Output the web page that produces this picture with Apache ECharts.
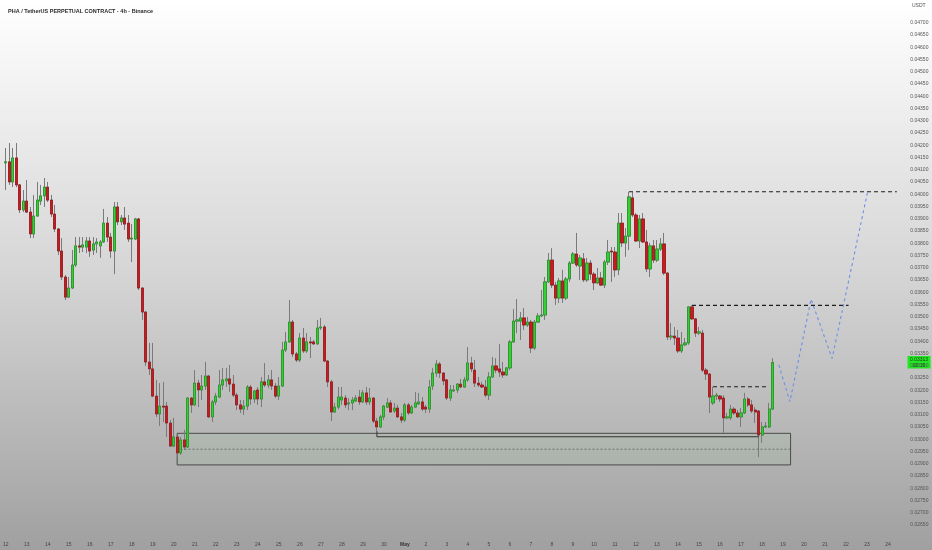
<!DOCTYPE html>
<html><head><meta charset="utf-8">
<script src="https://cdn.jsdelivr.net/npm/echarts@6/dist/echarts.min.js"></script>
<style>html,body{margin:0;padding:0;background:#fff}#c{width:932px;height:550px}</style>
</head><body><div id="c"></div><script>
// 4h candles, PHA/USDT perpetual, Apr 12 00:00 -> May 18 12:00
const opens=[0.04128,0.04132,0.04050,0.04148,0.04038,0.03936,0.03972,0.03927,0.03838,0.03911,0.03972,0.03993,0.04029,0.03976,0.03919,0.03858,0.03768,0.03662,0.03580,0.03617,
0.03711,0.03789,0.03784,0.03784,0.03809,0.03772,0.03797,0.03789,0.03805,0.03882,0.03825,0.03768,0.03948,0.03887,0.03903,0.03882,0.03817,0.03817,0.03899,0.03617,
0.03519,0.03315,0.03287,0.03176,0.03103,0.03135,0.03135,0.03066,0.02972,0.03009,0.02944,0.02997,0.02968,0.03168,0.03140,0.03229,0.03201,0.03217,0.03258,0.03091,
0.03152,0.03172,0.03221,0.03238,0.03246,0.03225,0.03180,0.03140,0.03123,0.03135,0.03213,0.03164,0.03201,0.03164,0.03234,0.03221,0.03242,0.03217,0.03176,0.03217,
0.03364,0.03397,0.03478,0.03348,0.03323,0.03413,0.03360,0.03397,0.03397,0.03389,0.03454,0.03458,0.03319,0.03234,0.03111,0.03131,0.03160,0.03168,0.03144,0.03148,
0.03156,0.03172,0.03152,0.03189,0.03152,0.03168,0.03074,0.03050,0.03091,0.03131,0.03148,0.03115,0.03127,0.03091,0.03078,0.03140,0.03107,0.03131,0.03144,0.03152,
0.03131,0.03123,0.03217,0.03270,0.03307,0.03270,0.03242,0.03168,0.03197,0.03201,0.03225,0.03213,0.03242,0.03311,0.03282,0.03229,0.03221,0.03213,0.03180,0.03254,
0.03299,0.03287,0.03274,0.03262,0.03291,0.03397,0.03482,0.03482,0.03495,0.03466,0.03478,0.03372,0.03478,0.03503,0.03507,0.03642,0.03731,0.03629,0.03576,0.03646,
0.03576,0.03654,0.03719,0.03756,0.03707,0.03736,0.03650,0.03719,0.03674,0.03638,0.03658,0.03629,0.03723,0.03768,0.03764,0.03691,0.03882,0.03801,0.03829,0.03985,
0.03915,0.03809,0.03899,0.03805,0.03695,0.03789,0.03731,0.03776,0.03797,0.03678,0.03417,0.03421,0.03413,0.03360,0.03385,0.03393,0.03540,0.03491,0.03433,0.03433,
0.03282,0.03266,0.03148,0.03176,0.03176,0.03168,0.03087,0.03087,0.03123,0.03107,0.03091,0.03107,0.03164,0.03140,0.03119,0.03115,0.03017,0.03050,0.03050,0.03123];
const closes=[0.04132,0.04050,0.04148,0.04038,0.03936,0.03972,0.03927,0.03838,0.03911,0.03976,0.03993,0.04029,0.03976,0.03919,0.03858,0.03768,0.03662,0.03580,0.03617,0.03711,
0.03789,0.03784,0.03793,0.03809,0.03768,0.03797,0.03805,0.03805,0.03882,0.03825,0.03768,0.03948,0.03887,0.03903,0.03878,0.03817,0.03821,0.03899,0.03617,0.03519,
0.03315,0.03287,0.03176,0.03103,0.03135,0.03131,0.03066,0.02972,0.03009,0.02944,0.02997,0.02968,0.03168,0.03140,0.03229,0.03201,0.03217,0.03258,0.03091,0.03152,
0.03176,0.03221,0.03242,0.03246,0.03225,0.03180,0.03140,0.03123,0.03135,0.03213,0.03164,0.03197,0.03164,0.03234,0.03221,0.03242,0.03217,0.03176,0.03217,0.03364,
0.03397,0.03478,0.03348,0.03323,0.03413,0.03360,0.03397,0.03393,0.03389,0.03454,0.03458,0.03319,0.03234,0.03111,0.03131,0.03172,0.03172,0.03140,0.03148,0.03160,
0.03168,0.03152,0.03189,0.03152,0.03168,0.03074,0.03050,0.03091,0.03135,0.03148,0.03111,0.03127,0.03091,0.03078,0.03140,0.03107,0.03131,0.03148,0.03152,0.03123,
0.03123,0.03213,0.03270,0.03307,0.03270,0.03238,0.03168,0.03201,0.03201,0.03225,0.03213,0.03242,0.03311,0.03287,0.03229,0.03221,0.03213,0.03180,0.03254,0.03299,
0.03282,0.03274,0.03262,0.03291,0.03397,0.03482,0.03487,0.03495,0.03466,0.03478,0.03372,0.03478,0.03503,0.03507,0.03642,0.03731,0.03629,0.03576,0.03646,0.03576,
0.03654,0.03719,0.03756,0.03711,0.03740,0.03650,0.03719,0.03674,0.03638,0.03658,0.03629,0.03723,0.03764,0.03764,0.03691,0.03882,0.03801,0.03829,0.03989,0.03915,
0.03809,0.03899,0.03805,0.03695,0.03789,0.03731,0.03776,0.03797,0.03678,0.03417,0.03421,0.03413,0.03360,0.03385,0.03393,0.03540,0.03491,0.03433,0.03438,0.03282,
0.03266,0.03172,0.03176,0.03180,0.03164,0.03087,0.03091,0.03123,0.03107,0.03091,0.03107,0.03164,0.03140,0.03115,0.03111,0.03017,0.03050,0.03054,0.03123,0.03313];
const lows=[0.04017,0.04038,0.04029,0.04029,0.03923,0.03927,0.03923,0.03821,0.03821,0.03907,0.03956,0.03948,0.03968,0.03907,0.03846,0.03752,0.03650,0.03568,0.03576,0.03613,
0.03703,0.03760,0.03764,0.03760,0.03744,0.03752,0.03760,0.03740,0.03801,0.03805,0.03740,0.03674,0.03874,0.03874,0.03854,0.03805,0.03723,0.03813,0.03609,0.03487,
0.03299,0.03262,0.03172,0.03091,0.03054,0.03070,0.03009,0.02968,0.02968,0.02927,0.02936,0.02956,0.02964,0.03107,0.03135,0.03131,0.03160,0.03201,0.03087,0.03070,
0.03140,0.03168,0.03201,0.03213,0.03193,0.03172,0.03119,0.03107,0.03099,0.03119,0.03140,0.03148,0.03140,0.03131,0.03213,0.03209,0.03201,0.03168,0.03160,0.03213,
0.03356,0.03393,0.03336,0.03315,0.03315,0.03352,0.03352,0.03331,0.03385,0.03385,0.03446,0.03315,0.03213,0.03074,0.03107,0.03123,0.03140,0.03127,0.03119,0.03119,
0.03152,0.03140,0.03148,0.03140,0.03140,0.03066,0.03033,0.03046,0.03078,0.03127,0.03107,0.03107,0.03087,0.03066,0.03070,0.03099,0.03103,0.03127,0.03140,0.03115,
0.03107,0.03107,0.03201,0.03254,0.03250,0.03221,0.03160,0.03156,0.03193,0.03189,0.03209,0.03209,0.03234,0.03274,0.03213,0.03213,0.03209,0.03172,0.03160,0.03250,
0.03270,0.03254,0.03250,0.03258,0.03282,0.03393,0.03433,0.03405,0.03446,0.03458,0.03352,0.03364,0.03474,0.03499,0.03487,0.03638,0.03617,0.03548,0.03556,0.03556,
0.03568,0.03642,0.03715,0.03703,0.03650,0.03642,0.03642,0.03650,0.03609,0.03633,0.03625,0.03617,0.03711,0.03642,0.03662,0.03670,0.03784,0.03744,0.03772,0.03907,
0.03805,0.03780,0.03801,0.03682,0.03662,0.03719,0.03723,0.03768,0.03670,0.03405,0.03405,0.03385,0.03352,0.03352,0.03380,0.03385,0.03487,0.03417,0.03425,0.03274,
0.03242,0.03107,0.03140,0.03160,0.03152,0.03025,0.03082,0.03078,0.03099,0.03087,0.03050,0.03103,0.03131,0.03107,0.03066,0.02927,0.02985,0.03046,0.03046,0.03119];
const highs=[0.04189,0.04209,0.04189,0.04209,0.04042,0.04017,0.04058,0.03948,0.03997,0.04050,0.04038,0.04066,0.04050,0.03997,0.03956,0.03862,0.03821,0.03670,0.03662,0.03772,
0.03825,0.03825,0.03825,0.03825,0.03825,0.03825,0.03821,0.03813,0.03940,0.03907,0.03842,0.03968,0.03968,0.03915,0.03948,0.03915,0.03878,0.03903,0.03903,0.03621,
0.03523,0.03393,0.03393,0.03242,0.03229,0.03234,0.03152,0.03078,0.03087,0.03013,0.03009,0.03038,0.03172,0.03172,0.03282,0.03242,0.03262,0.03315,0.03262,0.03160,
0.03189,0.03282,0.03291,0.03291,0.03303,0.03262,0.03189,0.03160,0.03160,0.03221,0.03221,0.03201,0.03213,0.03254,0.03311,0.03262,0.03282,0.03229,0.03254,0.03397,
0.03438,0.03568,0.03487,0.03356,0.03433,0.03454,0.03433,0.03417,0.03405,0.03487,0.03495,0.03466,0.03323,0.03242,0.03148,0.03213,0.03213,0.03180,0.03168,0.03172,
0.03180,0.03201,0.03201,0.03213,0.03209,0.03172,0.03087,0.03099,0.03140,0.03168,0.03160,0.03148,0.03140,0.03107,0.03148,0.03148,0.03140,0.03193,0.03189,0.03172,
0.03140,0.03242,0.03291,0.03323,0.03315,0.03274,0.03246,0.03221,0.03221,0.03229,0.03246,0.03254,0.03376,0.03336,0.03323,0.03254,0.03234,0.03242,0.03274,0.03336,
0.03331,0.03389,0.03315,0.03295,0.03405,0.03531,0.03572,0.03519,0.03536,0.03499,0.03487,0.03487,0.03515,0.03609,0.03662,0.03760,0.03780,0.03642,0.03658,0.03691,
0.03662,0.03727,0.03764,0.03842,0.03752,0.03760,0.03740,0.03731,0.03682,0.03699,0.03682,0.03731,0.03813,0.03784,0.03784,0.03923,0.03923,0.03862,0.04010,0.04009,
0.03923,0.03915,0.03923,0.03854,0.03801,0.03813,0.03813,0.03821,0.03842,0.03682,0.03474,0.03458,0.03446,0.03438,0.03413,0.03540,0.03546,0.03495,0.03458,0.03446,
0.03291,0.03270,0.03214,0.03189,0.03180,0.03180,0.03107,0.03140,0.03131,0.03119,0.03127,0.03189,0.03172,0.03160,0.03131,0.03119,0.03070,0.03070,0.03148,0.03331];
const dayLabels=['12','13','14','15','16','17','18','19','20','21','22','23','24','25','26','27','28','29','30',
'May','2','3','4','5','6','7','8','9','10','11','12','13','14','15','16','17','18','19','20','21','22','23','24'];
const slotsPerDay=6, slotCount=256;
const yTicks={min:0.026,max:0.0479,step:0.0005,firstShown:0.0265,lastShown:0.047};
// annotations in data space: [slot index, price]
const demandZone={x0:48.95,x1:224.15,top:0.03024,bottom:0.02895,mid:0.02959,midStart:49.9};
const supportLine=[[106,0.03033],[106,0.03010],[215.1,0.03010]];
const levelTop=[[178,0.04010],[254.5,0.04010]];
const levelMid=[[196,0.03546],[240.7,0.03546]];
const levelLow=[[202,0.03214],[218,0.03214]];
const projection=[[220.8,0.03303],[223.95,0.03153],[230,0.03571],[236,0.03330],[246.2,0.04013]];
const lastPrice=0.03313, countdown='02:15';

const cats=Array.from({length:slotCount},(_,i)=>'s'+i);
const full=opens.map((o,i)=>[o,closes[i],lows[i],highs[i]]);
const bodies=opens.map((o,i)=>[o,closes[i],Math.min(o,closes[i]),Math.max(o,closes[i])]);

const chart=echarts.init(document.getElementById('c'),null,{renderer:'canvas'});
const FF='"Liberation Sans", Arial, sans-serif';
function lineSeries(data,color,width,dash){
  return {type:'line',xAxisIndex:1,yAxisIndex:0,data:data,symbol:'none',showSymbol:false,silent:true,animation:false,
    lineStyle:{color:color,width:width,type:dash},z:5};
}
chart.setOption({
  animation:false,
  backgroundColor:{type:'linear',x:0,y:0,x2:0,y2:1,colorStops:[{offset:0,color:'#ffffff'},{offset:0.5,color:'#d5d5d5'},{offset:1,color:'#a0a0a0'}]},
  title:{text:'PHA / TetherUS PERPETUAL CONTRACT · 4h · Binance',left:3,top:3,textStyle:{fontSize:5.5,fontWeight:'bold',color:'#2a2a2a',fontFamily:FF}},
  grid:{left:-0.76,right:31.64,top:0.65,bottom:12.8,containLabel:false},
  xAxis:[{type:'category',data:cats,boundaryGap:true,axisLine:{show:false},axisTick:{show:false},splitLine:{show:false},
    axisLabel:{interval:(i)=>i%slotsPerDay===0,margin:5,fontSize:5,color:'#444',fontFamily:FF,hideOverlap:false,
      formatter:(v,i)=>{const d=dayLabels[Math.floor(i/slotsPerDay)]||'';return d==='May'?'{b|May}':d;},
      rich:{b:{fontSize:5,fontWeight:'bold',color:'#333',fontFamily:FF}}}},
    {type:'value',min:-0.5,max:slotCount-0.5,show:false}],
  yAxis:{type:'value',position:'right',min:yTicks.min,max:yTicks.max,interval:yTicks.step,scale:false,
    axisLine:{show:false},axisTick:{show:false},splitLine:{show:false},
    axisLabel:{margin:10,fontSize:5,color:'#555',fontFamily:FF,showMinLabel:false,showMaxLabel:false,
      formatter:(v)=>(v<yTicks.firstShown-1e-6||v>yTicks.lastShown+1e-6)?'':v.toFixed(5)}},
  series:[
    {type:'line',xAxisIndex:1,yAxisIndex:0,data:[],silent:true,
      markArea:{silent:true,itemStyle:{color:'rgba(140,200,140,0.10)',borderColor:'#4a4a4a',borderWidth:1},
        data:[[{coord:[demandZone.x0,demandZone.top]},{coord:[demandZone.x1,demandZone.bottom]}]]},z:1},
    lineSeries([[demandZone.midStart,demandZone.mid],[demandZone.x1,demandZone.mid]],'#56665a',0.8,[2,2]),
    lineSeries(supportLine,'#333',1,'solid'),
    {type:'candlestick',xAxisIndex:0,yAxisIndex:0,data:full,barWidth:2.6,z:3,
      itemStyle:{color:'#7a7a7a',color0:'#7a7a7a',borderColor:'#7a7a7a',borderColor0:'#7a7a7a',borderWidth:1}},
    {type:'candlestick',xAxisIndex:0,yAxisIndex:0,data:bodies,barWidth:2.6,z:4,
      itemStyle:{color:'#2fd22f',color0:'#d0161e',borderColor:'#1c8f1c',borderColor0:'#8e1014',borderWidth:0.6}},
    lineSeries(levelTop,'#1e1e1e',1.2,[4,3]),
    lineSeries(levelMid,'#1e1e1e',1.2,[4,3]),
    lineSeries(levelLow,'#1e1e1e',1.2,[4,3]),
    lineSeries(projection,'#6f8fe8',1.1,[3,3])
  ]
});
const py=chart.convertToPixel({yAxisIndex:0},lastPrice);
chart.setOption({graphic:[
  {type:'text',left:912,top:3,style:{text:'USDT',fontSize:5,fill:'#555',fontFamily:FF}},
  {type:'rect',shape:{x:907.5,y:py-6.5,width:23,height:12.5},style:{fill:'#22e622'}},
  {type:'text',x:919,y:py-3.2,style:{text:lastPrice.toFixed(5),fontSize:5,fill:'#1b3b1b',fontFamily:FF,align:'center',verticalAlign:'middle'}},
  {type:'text',x:919,y:py+2.8,style:{text:countdown,fontSize:5,fill:'#1b3b1b',fontFamily:FF,align:'center',verticalAlign:'middle'}}
]});
</script></body></html>
